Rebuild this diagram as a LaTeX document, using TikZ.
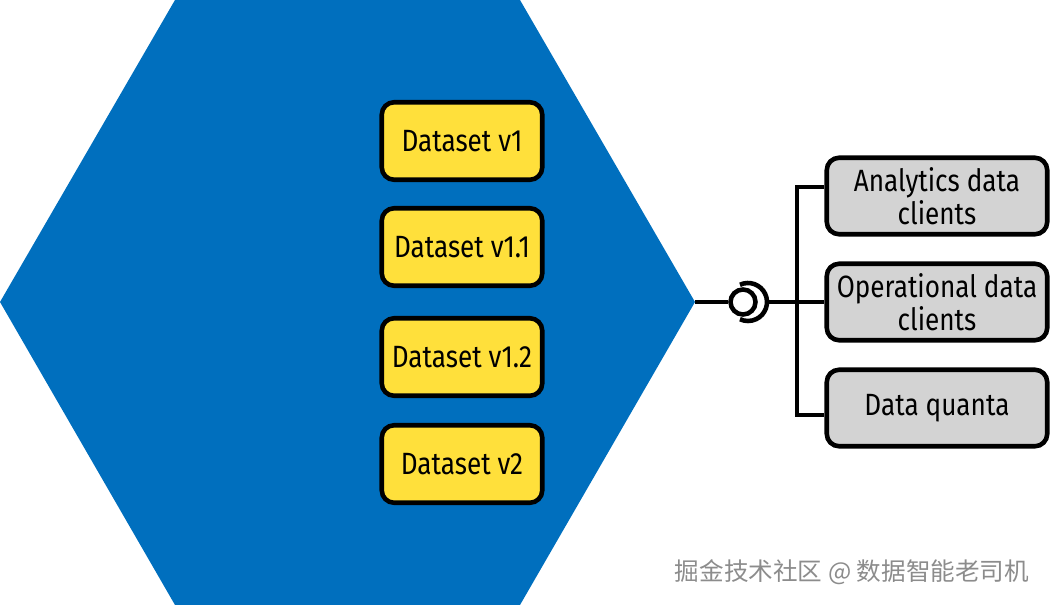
\documentclass[tikz,border=0pt]{standalone}
\usepackage{fontspec}
\setmainfont{Fira Sans}[FakeStretch=0.85]
\newfontfamily\cjk{Noto Sans CJK SC}
\usepackage{tikz}

\definecolor{hexblue}{HTML}{006FBE}
\definecolor{dsyellow}{HTML}{FFE03B}
\definecolor{clgray}{HTML}{D3D3D3}
\definecolor{wmgray}{HTML}{8C8C8C}

\begin{document}
\begin{tikzpicture}[x=0.02cm, y=-0.02cm, font=\fontsize{17.5}{18.5}\selectfont,
    dataset/.style={rectangle, draw, fill=dsyellow, line width=2.6pt,
        rounded corners=7pt, minimum width=3.21cm, minimum height=1.55cm},
    client/.style={rectangle, draw, fill=clgray, line width=2.6pt, align=center,
        rounded corners=7pt, minimum width=4.41cm, minimum height=1.53cm},
    wire/.style={line width=2.6pt}]

    \useasboundingbox (0,0) rectangle (1052,605);

    % the product hexagon
    \fill[hexblue] (0,302) -- (175,0) -- (520,0) -- (695,302) -- (520,605) -- (175,605) -- cycle;
    \coordinate (hexright) at (695,302);

    % dataset versions
    \node[dataset] (v1)  at (462,141) {Dataset v1};
    \node[dataset] (v11) at (462,247) {Dataset v1.1};
    \node[dataset] (v12) at (462,357) {Dataset v1.2};
    \node[dataset] (v2)  at (462,464) {Dataset v2};

    % clients
    \node[client] (ana)    at (937,196) {Analytics data\\clients};
    \node[client] (ops)    at (937,302) {Operational data\\clients};
    \node[client] (quanta) at (937,408) {Data quanta};

    % ball and socket
    \node[circle, draw, fill=white, line width=2.6pt, inner sep=0pt,
        minimum size=0.5cm] (ball) at (743,302) {};
    \coordinate (sock) at (748,302);
    \coordinate (plug) at ([xshift=0.38cm]sock);
    \draw[wire] (hexright) -- (ball.west);
    \draw[wire] ([shift={(115:0.38cm)}]sock) arc[start angle=115, end angle=-115, radius=0.38cm];

    % fan out to the clients
    \coordinate (tapA) at (797,187);
    \coordinate (tapB) at (797,302);
    \coordinate (tapC) at (797,415);
    \draw[wire] (plug) -- (tapB);
    \draw[wire] (tapA -| ana.west) -- (tapA) -- (tapC) -- (tapC -| quanta.west);
    \draw[wire] (tapB) -- (ops.west);

    \node[text=wmgray, font=\cjk\fontsize{14}{15}\selectfont] (mark) at (852,572)
        {掘金技术社区 @ 数据智能老司机};

\end{tikzpicture}
\end{document}
